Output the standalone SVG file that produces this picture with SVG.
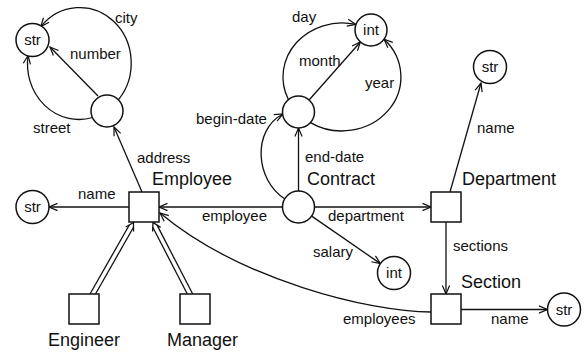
<svg xmlns="http://www.w3.org/2000/svg" width="585" height="354" viewBox="0 0 585 354">
<style>
.n{fill:#fff;stroke:#111;stroke-width:1.5}
.c{fill:none;stroke:#111;stroke-width:1.3}
.l{font-family:"Liberation Sans",Arial,sans-serif;font-size:15px;fill:#111}
.big{font-family:"Liberation Sans",Arial,sans-serif;font-size:18px;fill:#111}
.t{font-family:"Liberation Sans",Arial,sans-serif;font-size:15px;fill:#111;text-anchor:middle}
</style>
<defs>
<marker id="arr" markerUnits="userSpaceOnUse" markerWidth="12" markerHeight="12" viewBox="-10 -6 12 12" refX="0" refY="0" orient="auto">
<path d="M-8.5,-3.6 L0,0 L-8.5,3.6" fill="none" stroke="#111" stroke-width="1.2"/>
</marker>
</defs>
<rect width="585" height="354" fill="#fff"/>
<g id="connectors">
<path class="c" d="M118.5,99.6 A51.5,55.5 0 0,0 40.9,26.6" marker-end="url(#arr)"/>
<path class="c" d="M92.6,117.5 A51.5,55.5 0 0,1 28.1,55.4" marker-end="url(#arr)"/>
<line class="c" x1="98" y1="96" x2="50" y2="47" marker-end="url(#arr)"/>
<line class="c" x1="142" y1="192" x2="114" y2="127" marker-end="url(#arr)"/>
<line class="c" x1="129" y1="207" x2="49" y2="207" marker-end="url(#arr)"/>
<line class="c" x1="282.5" y1="207" x2="159" y2="207" marker-end="url(#arr)"/>
<line class="c" x1="314.5" y1="207" x2="431" y2="207" marker-end="url(#arr)"/>
<line class="c" x1="311.7" y1="216.1" x2="380.4" y2="263.6" marker-end="url(#arr)"/>
<line class="c" x1="298.5" y1="191" x2="298.5" y2="128" marker-end="url(#arr)"/>
<line class="c" x1="309.1" y1="100" x2="360.4" y2="42" marker-end="url(#arr)"/>
<path class="c" d="M288.5,99.8 A59,54 0 0,1 355.8,24.5" marker-end="url(#arr)"/>
<path class="c" d="M310.4,122.6 A59,54 0 0,0 384.1,39.2" marker-end="url(#arr)"/>
<path class="c" d="M285,199 C255,180 252,130 283,114" marker-end="url(#arr)"/>
<line class="c" x1="450" y1="192" x2="481" y2="83" marker-end="url(#arr)"/>
<line class="c" x1="446" y1="222" x2="446" y2="294" marker-end="url(#arr)"/>
<line class="c" x1="461" y1="309.5" x2="547.5" y2="309.5" marker-end="url(#arr)"/>
<path class="c" d="M431,312 C370,312 240,280 160,213" marker-end="url(#arr)"/>
<line class="c" x1="90" y1="294" x2="129.3" y2="225"/>
<line class="c" x1="95.5" y1="294" x2="133.5" y2="227.3"/>
<polyline class="c" points="125.7,227 133.5,222.5 133.55,231.5"/>
<line class="c" x1="187.3" y1="294" x2="152.8" y2="227.3"/>
<line class="c" x1="192.7" y1="294" x2="157.06" y2="225.13"/>
<polyline class="c" points="152.6,231.5 153,222.5 160.6,227.35"/>
<text class="l" x="115" y="23">city</text>
<text class="l" x="70" y="59">number</text>
<text class="l" x="33" y="133">street</text>
<text class="l" x="137" y="163">address</text>
<text class="l" x="78" y="199">name</text>
<text class="l" x="202" y="221">employee</text>
<text class="l" x="292" y="22">day</text>
<text class="l" x="299" y="66">month</text>
<text class="l" x="365" y="88">year</text>
<text class="l" x="196" y="124">begin-date</text>
<text class="l" x="305" y="162">end-date</text>
<text class="l" x="328" y="221">department</text>
<text class="l" x="313" y="257">salary</text>
<text class="l" x="453" y="251">sections</text>
<text class="l" x="343" y="324">employees</text>
<text class="l" x="491" y="324">name</text>
<text class="l" x="477" y="133">name</text>
</g>
<g id="str1"><circle class="n" cx="32.5" cy="40" r="16.5"/><text class="t" x="32.5" y="45">str</text></g>
<g id="address"><circle class="n" cx="107" cy="111" r="16"/></g>
<g id="str2"><circle class="n" cx="32.5" cy="207" r="16.5"/><text class="t" x="32.5" y="212">str</text></g>
<g id="Employee"><rect class="n" x="129" y="192" width="30" height="30"/><text class="big" x="152" y="185">Employee</text></g>
<g id="Engineer"><rect class="n" x="69" y="294" width="30" height="30"/><text class="big" x="48" y="346">Engineer</text></g>
<g id="Manager"><rect class="n" x="180" y="294" width="30" height="30"/><text class="big" x="167" y="346">Manager</text></g>
<g id="date"><circle class="n" cx="298.5" cy="112" r="16"/></g>
<g id="int1"><circle class="n" cx="371" cy="30" r="16"/><text class="t" x="371" y="35">int</text></g>
<g id="Contract"><circle class="n" cx="298.5" cy="207" r="16"/><text class="big" x="307" y="185">Contract</text></g>
<g id="int2"><circle class="n" cx="394" cy="273" r="16.5"/><text class="t" x="394" y="278">int</text></g>
<g id="Department"><rect class="n" x="431" y="192" width="30" height="30"/><text class="big" x="462" y="185">Department</text></g>
<g id="str3"><circle class="n" cx="490" cy="67" r="16.5"/><text class="t" x="490" y="72">str</text></g>
<g id="Section"><rect class="n" x="431" y="294" width="30" height="30"/><text class="big" x="461" y="288">Section</text></g>
<g id="str4"><circle class="n" cx="564" cy="309.5" r="16.5"/><text class="t" x="564" y="314.5">str</text></g>
</svg>
